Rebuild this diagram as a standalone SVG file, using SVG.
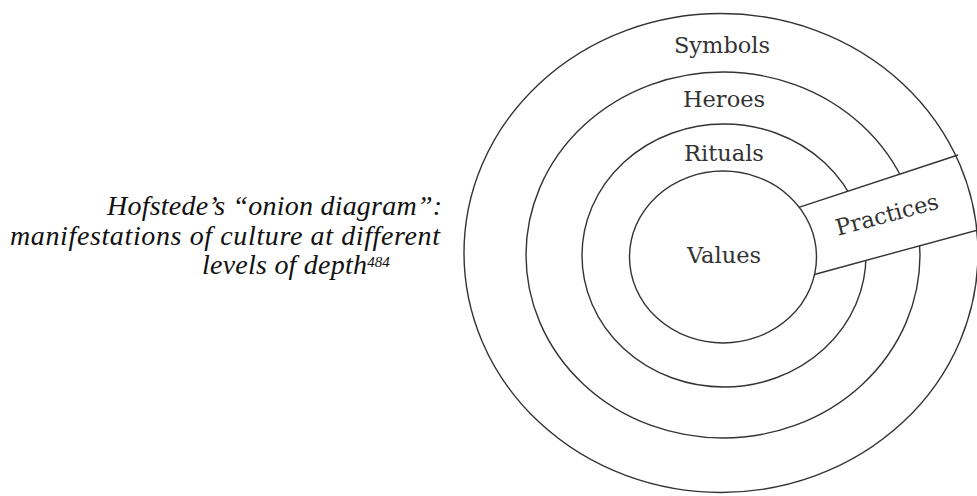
<svg xmlns="http://www.w3.org/2000/svg" width="977" height="496" viewBox="0 0 977 496">
  <style>
    .ring { fill: none; stroke: #333; stroke-width: 1.4; }
    .edge { stroke: #333; stroke-width: 1.4; fill: none; }
    .label { font-family: "DejaVu Serif", "Liberation Serif", serif; font-size: 22.5px; fill: #333; text-anchor: middle; }
    .caption { font-family: "Liberation Serif", "DejaVu Serif", serif; font-style: italic; font-size: 28px; fill: #111; }
  </style>
  <rect width="977" height="496" fill="#fff"/>

  <!-- caption -->
  <g id="caption" class="caption">
    <text x="107" y="215" textLength="335" lengthAdjust="spacing">Hofstede’s “onion diagram”:</text>
    <text x="10" y="245" textLength="430" lengthAdjust="spacing">manifestations of culture at different</text>
    <text x="202" y="274"><tspan textLength="165" lengthAdjust="spacing">levels of depth</tspan><tspan font-size="15" dy="-7">484</tspan></text>
  </g>

  <!-- onion layers -->
  <g id="heroes-ring">
    <ellipse class="ring" cx="723" cy="255" rx="197" ry="183"/>
  </g>
  <g id="rituals-ring">
    <ellipse class="ring" cx="724" cy="255.5" rx="142" ry="131.5"/>
  </g>

  <!-- practices band cutting through the outer layers -->
  <g id="practices">
    <polygon points="790,210.3 1000,141.2 1000,223.8 800,278" fill="#fff"/>
    <g id="connectors">
      <line class="edge" x1="795" y1="208.6" x2="958" y2="155"/>
      <line class="edge" x1="808" y1="276.2" x2="985" y2="228"/>
    </g>
    <text class="label" transform="translate(889 222) rotate(-15)">Practices</text>
  </g>

  <g id="values-core">
    <ellipse cx="723" cy="257" rx="93.5" ry="86" fill="#fff" stroke="#333" stroke-width="1.4"/>
  </g>
  <g id="symbols-ring">
    <ellipse class="ring" cx="721" cy="253" rx="257" ry="239.5"/>
  </g>

  <!-- layer names -->
  <g id="labels">
    <text class="label" x="722" y="53">Symbols</text>
    <text class="label" x="724" y="107">Heroes</text>
    <text class="label" x="724" y="161">Rituals</text>
    <text class="label" x="724" y="263">Values</text>
  </g>
</svg>
